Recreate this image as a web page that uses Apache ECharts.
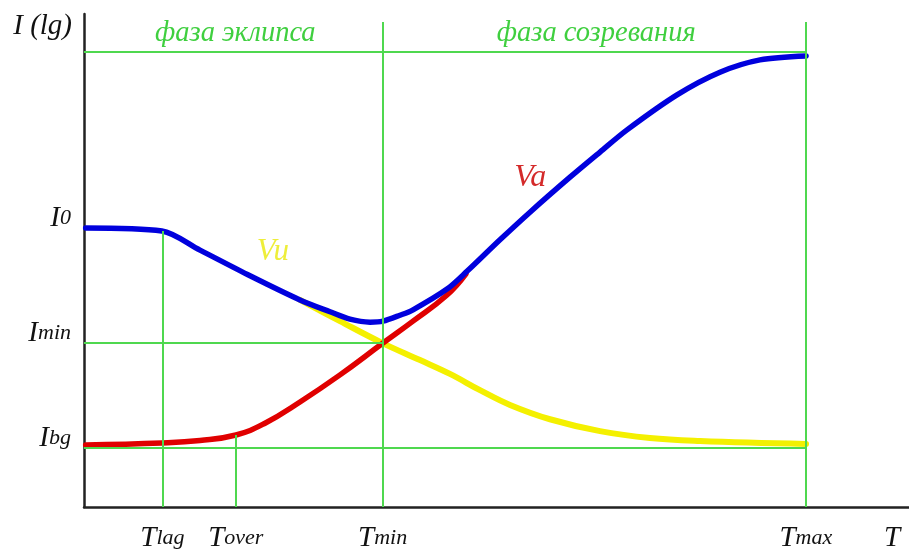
<!DOCTYPE html>
<html>
<head>
<meta charset="utf-8">
<script src="https://cdn.jsdelivr.net/npm/echarts@6/dist/echarts.min.js"></script>
<style>
  html, body { margin: 0; padding: 0; background: #fff; }
  #chart { width: 909px; height: 549px; }
</style>
</head>
<body>
<div id="chart"></div>
<script>
// Time axis (T) and log-intensity axis (I) share a 0..100 relative scale.

// Total signal: uninfected + infected contribution
const sumT = [0.2, 9.45, 14.06, 20.12, 26.18, 29.82, 32.24, 34.67, 36.24, 38.30, 39.88, 44.0, 46.42, 50.42, 54.06, 58.91, 62.55, 65.82, 71.88, 77.09, 81.94, 87.52];
const sumI = [56.6, 56.0, 52.1, 46.9, 42.0, 39.6, 38.1, 37.5, 37.7, 38.9, 40.0, 44.2, 47.8, 54.2, 59.8, 66.9, 72.0, 76.5, 83.6, 88.2, 90.7, 91.5];

// Vu: decaying component
const vuT = [26.18, 31.03, 36.12, 40.73, 44.36, 48.0, 51.64, 56.48, 62.55, 68.6, 74.67, 87.52];
const vuI = [42.0, 37.7, 33.3, 29.8, 27.0, 23.7, 20.7, 17.8, 15.4, 14.0, 13.4, 12.8];

// Va: growing component
const vaT = [0.2, 9.45, 14.06, 18.42, 21.94, 26.18, 31.03, 36.12, 39.88, 44.0, 46.3];
const vaI = [12.6, 13.0, 13.5, 14.6, 17.0, 21.3, 26.8, 33.1, 37.7, 43.0, 47.3];

// Characteristic times and where their guide lines stop
const tMarkNames = ['lag', 'over', 'min', 'max'];
const tMarkValues = [9.5, 18.4, 36.2, 87.5];
const tMarkTops = [56.0, 14.6, 98.4, 98.4];

// Characteristic levels (I0 has no guide line)
const iMarkNames = ['0', 'min', 'bg'];
const iMarkValues = [56.6, 33.3, 12.0];

// Horizontal guides: level and the time where each ends
const hGuideI = [92.3, 33.3, 12.0];
const hGuideEndT = [87.5, 36.2, 87.5];

// Phases and their time bounds
const phaseNames = ['фаза эклипса', 'фаза созревания'];
const phaseBounds = [0, 36.2, 87.5];

// Curve captions
const curveNames = ['Vu', 'Va'];

const GREEN = '#4fd84f';
const SERIF = '"Liberation Serif", "DejaVu Serif", serif';

const zip = (xs, ys) => xs.map((x, i) => [x, ys[i]]);

const guideLines = [];
tMarkValues.forEach((t, i) => guideLines.push([{ coord: [t, 0] }, { coord: [t, tMarkTops[i]] }]));
hGuideI.forEach((v, i) => guideLines.push([{ coord: [0, v] }, { coord: [hGuideEndT[i], v] }]));

const chart = echarts.init(document.getElementById('chart'), null, { renderer: 'canvas' });

chart.setOption({
  animation: false,
  backgroundColor: '#ffffff',
  grid: { left: 84, right: 0, top: 14, bottom: 42 },
  xAxis: {
    type: 'value', min: 0, max: 100,
    axisLine: { show: true, lineStyle: { color: '#222', width: 2.5 } },
    axisTick: { show: false }, axisLabel: { show: false }, splitLine: { show: false }
  },
  yAxis: {
    type: 'value', min: 0, max: 100,
    axisLine: { show: true, lineStyle: { color: '#222', width: 2.5 } },
    axisTick: { show: false }, axisLabel: { show: false }, splitLine: { show: false }
  },
  series: [
    {
      name: 'guides', type: 'line', data: [], z: 1,
      markLine: {
        silent: true, symbol: ['none', 'none'], animation: false,
        label: { show: false },
        lineStyle: { color: GREEN, width: 2, type: 'solid' },
        emphasis: { disabled: true },
        data: guideLines
      }
    },
    {
      name: 'Vu', type: 'line', data: zip(vuT, vuI), z: 2,
      smooth: 0.4, showSymbol: false, symbol: 'none',
      lineStyle: { color: '#f4f000', width: 6, cap: 'round', join: 'round' }
    },
    {
      name: 'Va', type: 'line', data: zip(vaT, vaI), z: 3,
      smooth: 0.45, showSymbol: false, symbol: 'none',
      lineStyle: { color: '#e00000', width: 5.5, cap: 'round', join: 'round' }
    },
    {
      name: 'sum', type: 'line', data: zip(sumT, sumI), z: 4,
      smooth: 0.3, showSymbol: false, symbol: 'none',
      lineStyle: { color: '#0000dd', width: 5.5, cap: 'round', join: 'round' }
    }
  ]
});

// Text annotations placed through the chart's own coordinate conversion
const px = (t, i) => chart.convertToPixel({ gridIndex: 0 }, [t, i]);
const bigSize = 29, subSize = 22;
const richBase = {
  b: { fontFamily: SERIF, fontStyle: 'italic', fontSize: bigSize, fill: '#111' },
  s: { fontFamily: SERIF, fontStyle: 'italic', fontSize: subSize, fill: '#111' }
};
const graphics = [];

// Level labels on the I axis
iMarkValues.forEach((v, i) => {
  const p = px(0, v);
  graphics.push({
    type: 'text', x: p[0] - 13, y: p[1] + 5, silent: true,
    style: { text: '{b|I}{s|' + iMarkNames[i] + '}', rich: richBase, align: 'right', verticalAlign: 'bottom' }
  });
});

// Time labels under the T axis
tMarkValues.forEach((t, i) => {
  const p = px(t, 0);
  graphics.push({
    type: 'text', x: p[0], y: p[1] + 46, silent: true,
    style: { text: '{b|T}{s|' + tMarkNames[i] + '}', rich: richBase, align: 'center', verticalAlign: 'bottom' }
  });
});

// Axis names
const originPx = px(0, 0);
const axisTopPx = px(0, 100);
graphics.push({
  type: 'text', x: originPx[0] - 12, y: axisTopPx[1] + 27, silent: true,
  style: { text: 'I (lg)', font: 'italic ' + bigSize + 'px ' + SERIF, fill: '#111', align: 'right', verticalAlign: 'bottom' }
});
graphics.push({
  type: 'text', x: 892, y: originPx[1] + 46, silent: true,
  style: { text: 'T', font: 'italic ' + bigSize + 'px ' + SERIF, fill: '#111', align: 'center', verticalAlign: 'bottom' }
});

// Phase captions centred over each phase
phaseNames.forEach((name, i) => {
  const a = px(phaseBounds[i], 92.3);
  const b = px(phaseBounds[i + 1], 92.3);
  graphics.push({
    type: 'text', x: (a[0] + b[0]) / 2 + 2, y: a[1] - 4, silent: true,
    style: { text: name, font: 'italic 28.5px ' + SERIF, fill: '#3fcf3f', align: 'center', verticalAlign: 'bottom' }
  });
});

// Curve captions
const vuPos = px(22.9, 51.7);
const vaPos = px(54.1, 66.9);
graphics.push({
  type: 'text', x: vuPos[0], y: vuPos[1], silent: true,
  style: { text: curveNames[0], font: 'italic 31px ' + SERIF, fill: '#eeee3a', align: 'center', verticalAlign: 'middle' }
});
graphics.push({
  type: 'text', x: vaPos[0], y: vaPos[1], silent: true,
  style: { text: curveNames[1], font: 'italic 32px ' + SERIF, fill: '#d42a2a', align: 'center', verticalAlign: 'middle' }
});

chart.setOption({ graphic: graphics });
</script>
</body>
</html>
